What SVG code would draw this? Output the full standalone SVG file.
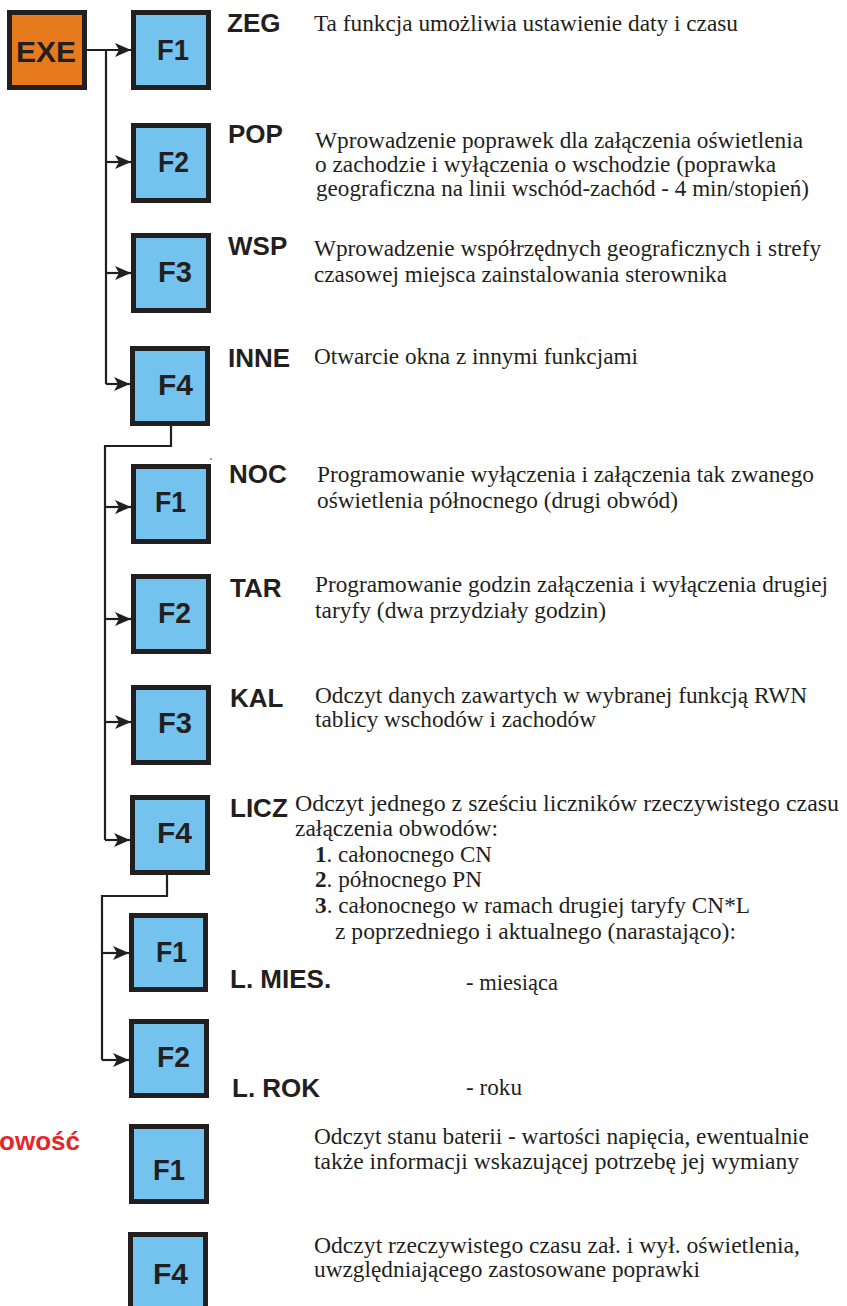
<svg xmlns="http://www.w3.org/2000/svg" width="847" height="1306" viewBox="0 0 847 1306">
<style>
.box{stroke:#231f20;stroke-width:5}
.blue{fill:#74c3ef}
.orange{fill:#e87a1e}
.fl{font-family:"Liberation Sans",Arial,sans-serif;font-weight:bold;font-size:30px;fill:#231f20}
.lbl{font-family:"Liberation Sans",Arial,sans-serif;font-weight:bold;font-size:26px;fill:#231f20}
.d{font-family:"Liberation Serif","Times New Roman",serif;font-size:23.5px;fill:#231f20}
.red{font-family:"Liberation Sans",Arial,sans-serif;font-weight:bold;font-size:26px;fill:#e3262a}
.c{stroke:#231f20;stroke-width:2.2;fill:none}
.b{font-weight:bold}
</style>
<defs>
<marker id="ah" markerWidth="16" markerHeight="14" refX="16" refY="7" orient="auto" markerUnits="userSpaceOnUse">
<path d="M0,0 L16,7 L0,14 L4,7 Z" fill="#231f20"/>
</marker>
</defs>
<rect width="847" height="1306" fill="#ffffff"/>
<g id="connectors">
<path class="c" d="M87,50 H131" marker-end="url(#ah)"/>
<path class="c" d="M106,50 V384"/>
<path class="c" d="M106,162 H131" marker-end="url(#ah)"/>
<path class="c" d="M106,273 H131" marker-end="url(#ah)"/>
<path class="c" d="M106,384 H130" marker-end="url(#ah)"/>
<path class="c" d="M171,425 V446 H105 V840"/>
<path class="c" d="M105,507 H131" marker-end="url(#ah)"/>
<path class="c" d="M105,619 H131" marker-end="url(#ah)"/>
<path class="c" d="M105,722 H131" marker-end="url(#ah)"/>
<path class="c" d="M105,840 H130" marker-end="url(#ah)"/>
<path class="c" d="M167,873 V896 H102 V1060"/>
<path class="c" d="M102,953 H129" marker-end="url(#ah)"/>
<path class="c" d="M102,1060 H129" marker-end="url(#ah)"/>
</g>
<g id="exe">
<rect class="box orange" x="9.5" y="12.5" width="75" height="75"/>
<text class="fl" x="16" y="62" textLength="60" lengthAdjust="spacingAndGlyphs">EXE</text>
</g>
<g id="zeg">
<rect class="box blue" x="133.5" y="12.5" width="75" height="75"/>
<text class="fl" x="157" y="60" textLength="32" lengthAdjust="spacingAndGlyphs">F1</text>
<text class="lbl" x="227" y="32">ZEG</text>
<text class="d" x="314" y="31" textLength="424" lengthAdjust="spacingAndGlyphs">Ta funkcja umożliwia ustawienie daty i czasu</text>
</g>
<g id="pop">
<rect class="box blue" x="133.5" y="125.5" width="75" height="75"/>
<text class="fl" x="158" y="172" textLength="31" lengthAdjust="spacingAndGlyphs">F2</text>
<text class="lbl" x="228" y="143">POP</text>
<text class="d" x="315" y="148" textLength="488" lengthAdjust="spacingAndGlyphs">Wprowadzenie poprawek dla załączenia oświetlenia</text>
<text class="d" x="315" y="172" textLength="461" lengthAdjust="spacingAndGlyphs">o zachodzie i wyłączenia o wschodzie (poprawka</text>
<text class="d" x="316" y="196" textLength="493" lengthAdjust="spacingAndGlyphs">geograficzna na linii wschód-zachód - 4 min/stopień)</text>
</g>
<g id="wsp">
<rect class="box blue" x="133.5" y="235.5" width="75" height="75"/>
<text class="fl" x="158" y="282" textLength="34" lengthAdjust="spacingAndGlyphs">F3</text>
<text class="lbl" x="228" y="255">WSP</text>
<text class="d" x="314" y="256" textLength="507" lengthAdjust="spacingAndGlyphs">Wprowadzenie współrzędnych geograficznych i strefy</text>
<text class="d" x="314" y="282" textLength="413" lengthAdjust="spacingAndGlyphs">czasowej miejsca zainstalowania sterownika</text>
</g>
<g id="inne">
<rect class="box blue" x="132.5" y="348.5" width="75" height="75"/>
<text class="fl" x="158" y="395" textLength="35" lengthAdjust="spacingAndGlyphs">F4</text>
<text class="lbl" x="228" y="367">INNE</text>
<text class="d" x="314" y="364" textLength="324" lengthAdjust="spacingAndGlyphs">Otwarcie okna z innymi funkcjami</text>
</g>
<circle cx="211" cy="459" r="0.8" fill="#231f20"/>
<g id="noc">
<rect class="box blue" x="133.5" y="466.5" width="75" height="75"/>
<text class="fl" x="155" y="512" textLength="31" lengthAdjust="spacingAndGlyphs">F1</text>
<text class="lbl" x="229" y="483">NOC</text>
<text class="d" x="317" y="482" textLength="497" lengthAdjust="spacingAndGlyphs">Programowanie wyłączenia i załączenia tak zwanego</text>
<text class="d" x="317" y="508" textLength="361" lengthAdjust="spacingAndGlyphs">oświetlenia północnego (drugi obwód)</text>
</g>
<g id="tar">
<rect class="box blue" x="133.5" y="576.5" width="75" height="75"/>
<text class="fl" x="158" y="623" textLength="33" lengthAdjust="spacingAndGlyphs">F2</text>
<text class="lbl" x="230" y="597">TAR</text>
<text class="d" x="315" y="592" textLength="513" lengthAdjust="spacingAndGlyphs">Programowanie godzin załączenia i wyłączenia drugiej</text>
<text class="d" x="315" y="618" textLength="291" lengthAdjust="spacingAndGlyphs">taryfy (dwa przydziały godzin)</text>
</g>
<g id="kal">
<rect class="box blue" x="133.5" y="687.5" width="75" height="75"/>
<text class="fl" x="158" y="733" textLength="34" lengthAdjust="spacingAndGlyphs">F3</text>
<text class="lbl" x="230" y="707">KAL</text>
<text class="d" x="315" y="703" textLength="492" lengthAdjust="spacingAndGlyphs">Odczyt danych zawartych w wybranej funkcją RWN</text>
<text class="d" x="315" y="727" textLength="281" lengthAdjust="spacingAndGlyphs">tablicy wschodów i zachodów</text>
</g>
<g id="licz">
<rect class="box blue" x="132.5" y="797.5" width="75" height="75"/>
<text class="fl" x="157" y="843" textLength="35" lengthAdjust="spacingAndGlyphs">F4</text>
<text class="lbl" x="230" y="817">LICZ</text>
<text class="d" x="295" y="811" textLength="544" lengthAdjust="spacingAndGlyphs">Odczyt jednego z sześciu liczników rzeczywistego czasu</text>
<text class="d" x="295" y="836">załączenia obwodów:</text>
<text class="d" x="315" y="862" textLength="177" lengthAdjust="spacingAndGlyphs"><tspan class="b">1</tspan>. całonocnego CN</text>
<text class="d" x="315" y="887" textLength="167" lengthAdjust="spacingAndGlyphs"><tspan class="b">2</tspan>. północnego PN</text>
<text class="d" x="315" y="913" textLength="435" lengthAdjust="spacingAndGlyphs"><tspan class="b">3</tspan>. całonocnego w ramach drugiej taryfy CN*L</text>
<text class="d" x="335" y="939" textLength="401" lengthAdjust="spacingAndGlyphs">z poprzedniego i aktualnego (narastająco):</text>
</g>
<g id="lmies">
<rect class="box blue" x="131.5" y="915.5" width="74" height="74"/>
<text class="fl" x="156" y="962" textLength="31" lengthAdjust="spacingAndGlyphs">F1</text>
<text class="lbl" x="230" y="988">L. MIES.</text>
<text class="d" x="466" y="990" textLength="92" lengthAdjust="spacingAndGlyphs">- miesiąca</text>
</g>
<g id="lrok">
<rect class="box blue" x="131.5" y="1021.5" width="75" height="74"/>
<text class="fl" x="157" y="1067" textLength="33" lengthAdjust="spacingAndGlyphs">F2</text>
<text class="lbl" x="232" y="1097">L. ROK</text>
<text class="d" x="466" y="1095" textLength="56" lengthAdjust="spacingAndGlyphs">- roku</text>
</g>
<text class="red" x="80" y="1150" text-anchor="end">owość</text>
<g id="bat">
<rect class="box blue" x="131.5" y="1126.5" width="75" height="75"/>
<text class="fl" x="153" y="1180" textLength="32" lengthAdjust="spacingAndGlyphs">F1</text>
<text class="d" x="314" y="1144" textLength="495" lengthAdjust="spacingAndGlyphs">Odczyt stanu baterii - wartości napięcia, ewentualnie</text>
<text class="d" x="314" y="1169" textLength="485" lengthAdjust="spacingAndGlyphs">także  informacji wskazującej potrzebę jej wymiany</text>
</g>
<g id="czas">
<rect class="box blue" x="130.5" y="1234.5" width="75" height="75"/>
<text class="fl" x="153" y="1284" textLength="35" lengthAdjust="spacingAndGlyphs">F4</text>
<text class="d" x="314" y="1253" textLength="486" lengthAdjust="spacingAndGlyphs">Odczyt rzeczywistego czasu zał. i wył. oświetlenia,</text>
<text class="d" x="314" y="1277" textLength="386" lengthAdjust="spacingAndGlyphs">uwzględniającego zastosowane poprawki</text>
</g>
</svg>
